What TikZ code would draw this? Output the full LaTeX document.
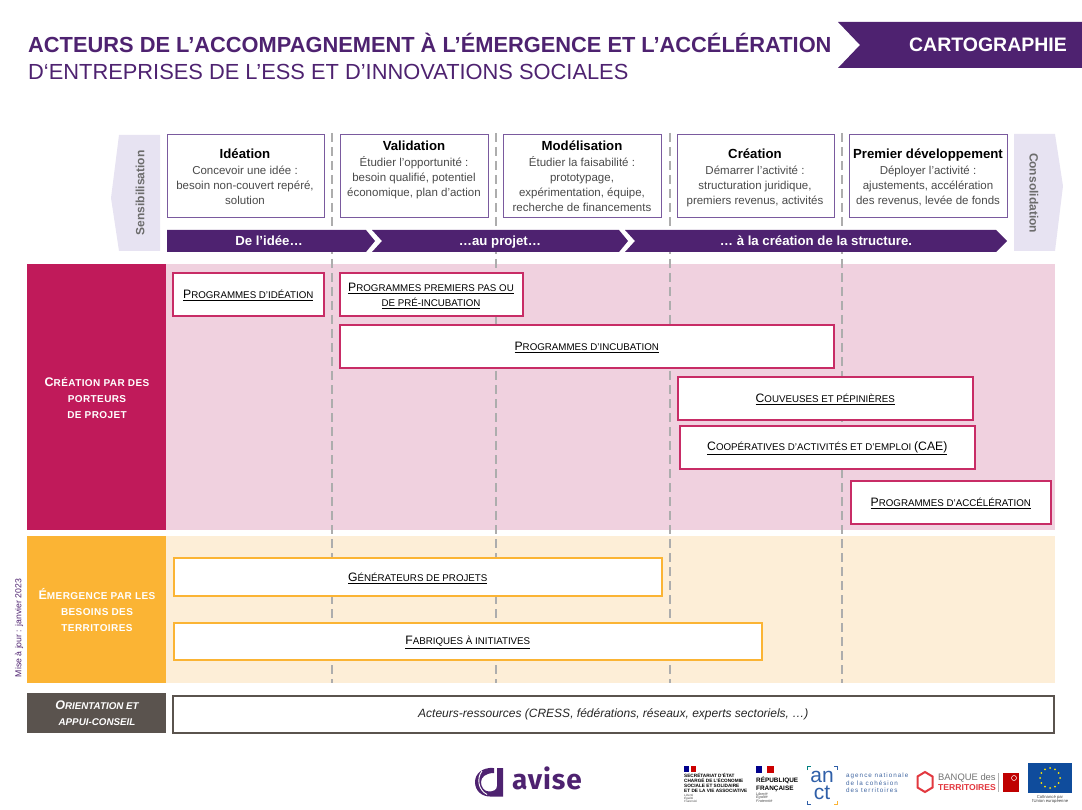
\documentclass[tikz,border=0pt]{standalone}
\usepackage{fontspec}
\setmainfont{Liberation Sans}
\newfontfamily\geo{Fira Sans}
\definecolor{purp}{HTML}{4E2270}
\definecolor{stepline}{HTML}{7A5A9E}
\definecolor{lilac}{HTML}{E7E3F2}
\definecolor{rose}{HTML}{C01A5A}
\definecolor{rosel}{HTML}{F0D1DF}
\definecolor{roseb}{HTML}{C82C66}
\definecolor{oran}{HTML}{FBB434}
\definecolor{oranl}{HTML}{FDEED7}
\definecolor{dgray}{HTML}{5A534E}
\definecolor{body}{HTML}{4A4A4A}
\definecolor{ancb}{HTML}{2F5FA8}
\definecolor{btred}{HTML}{E2383F}
\definecolor{eub}{HTML}{0F4C9C}
\newcommand\fsz[1]{\fontsize{#1}{#1}\selectfont}
% faked small capitals: big initial, small upper-case rest
\newcommand\psc[2]{{\fsz{12.2}#1}{\fsz{9.75}\MakeUppercase{#2}}}
\newcommand\hsc[2]{{\fsz{12.5}#1}{\fsz{10}\MakeUppercase{#2}}}
\newcommand\osc[2]{{\fsz{12.5}#1}{\fsz{9.8}\MakeUppercase{#2}}}
\newcommand\stt[1]{{\bfseries\fsz{13.2}\color{black}#1}}
\tikzset{
  x=1pt,y=-1pt,
  stepbox/.style={draw=stepline,line width=1pt,fill=white,outer sep=0pt,inner sep=0pt,anchor=north west,minimum height=83pt},
  steptext/.style={align=center,text=body,font=\fontsize{11.5}{15}\selectfont,inner sep=0pt,anchor=north},
  arrowlabel/.style={text=white,font=\bfseries\fsz{13.2},inner sep=0pt,anchor=base},
  sidelabel/.style={text=gray!85!black,font=\bfseries\fsz{12},rotate=#1,inner sep=0pt},
  prog/.style={draw=roseb,line width=1.6pt,fill=white,outer sep=0pt,inner sep=0pt,anchor=north west,minimum height=43pt},
  progo/.style={draw=oran,line width=1.6pt,fill=white,outer sep=0pt,inner sep=0pt,anchor=north west},
  plabel/.style={align=center,text=black,inner sep=0pt,yshift=-1.2pt},
  hlabel/.style={align=center,text=white,font=\bfseries\addfontfeature{LetterSpace=4},inner sep=0pt},
  dashv/.style={draw=black!32,line width=1.1pt,dash pattern=on 9pt off 5pt},
}
\begin{document}
\begin{tikzpicture}
\useasboundingbox (0,0) rectangle (1082,810);
% title
\node[anchor=base west,inner sep=0pt,text=purp,font=\bfseries\fsz{21.83}] (t1) at (28,53) {ACTEURS DE L’ACCOMPAGNEMENT À L’ÉMERGENCE ET L’ACCÉLÉRATION};
\node[anchor=base west,inner sep=0pt,text=purp,font=\fsz{21.85}] (t2) at (28,80) {D‘ENTREPRISES DE L’ESS ET D’INNOVATIONS SOCIALES};
\fill[purp] (838,22) -- (1082,22) -- (1082,68) -- (838,68) -- (860,45) -- cycle;
\node[text=white,font=\bfseries\fsz{19.5},inner sep=0pt] (carto) at (988,45) {CARTOGRAPHIE};
% bands
\fill[rosel] (166,264) rectangle (1055,530);
\fill[rose] (27,264) rectangle (166,530);
\fill[oranl] (166,536) rectangle (1055,683);
\fill[oran] (27,536) rectangle (166,683);
\fill[dgray] (27,693) rectangle (166,733);
% dashed separators
\foreach \xx in {332,496,670,842} \draw[dashv] (\xx,133) -- (\xx,683);
% side arrows
\fill[lilac] (119,135) -- (160,135) -- (160,251) -- (119,251) -- (111,198) -- cycle;
\fill[lilac] (1014,134) -- (1055,134) -- (1063,186) -- (1055,251) -- (1014,251) -- cycle;
\node[sidelabel=90] (sens) at (140,193) {Sensibilisation};
\node[sidelabel=-90] (cons) at (1034,193) {Consolidation};
% steps
\node[stepbox,minimum width=157pt] (s1) at (167,134.5) {};
\node[stepbox,minimum width=148pt] (s2) at (340,134.5) {};
\node[stepbox,minimum width=157.5pt] (s3) at (503.5,134.5) {};
\node[stepbox,minimum width=156.5pt] (s4) at (677.5,134.5) {};
\node[stepbox,minimum width=157.5pt] (s5) at (849.5,134.5) {};
\node[steptext] (s1t) at (245,149) {\stt{Idéation}\\[1pt]Concevoir une idée :\\besoin non-couvert repéré,\\solution};
\node[steptext] (s2t) at (414,141) {\stt{Validation}\\[1pt]Étudier l’opportunité :\\besoin qualifié, potentiel\\économique, plan d’action};
\node[steptext] (s3t) at (582,141) {\stt{Modélisation}\\[1pt]Étudier la faisabilité :\\prototypage,\\expérimentation, équipe,\\recherche de financements};
\node[steptext] (s4t) at (755,149) {\stt{Création}\\[1pt]Démarrer l’activité :\\structuration juridique,\\premiers revenus, activités};
\node[steptext] (s5t) at (928,149) {\stt{Premier développement}\\[1pt]Déployer l’activité :\\ajustements, accélération\\des revenus, levée de fonds};
% process arrow
\fill[purp] (167,230) -- (366,230) -- (375,241) -- (366,252) -- (167,252) -- cycle;
\fill[purp] (372,230) -- (619,230) -- (628,241) -- (619,252) -- (372,252) -- (382,241) -- cycle;
\fill[purp] (625,230) -- (996,230) -- (1007,241) -- (996,252) -- (625,252) -- (635,241) -- cycle;
\node[arrowlabel] (a1) at (269,245.5) {De l’idée…};
\node[arrowlabel] (a2) at (500,245.5) {…au projet…};
\node[arrowlabel] (a3) at (816,245.5) {… à la création de la structure.};
% pink programmes
\node[prog,minimum width=151pt] (p1) at (172.8,272.8) {};
\node[plabel] at (p1) {\underline{\psc{P}{rogrammes d’idéation}}};
\node[prog,minimum width=183pt] (p2) at (339.8,272.8) {};
\node[plabel] at (431,294.4) {\underline{\psc{P}{rogrammes premiers pas ou}}\\[3pt]\underline{{\fsz{9.75}\MakeUppercase{de pré-incubation}}}};
\node[prog,minimum width=494pt] (p3) at (339.8,324.8) {};
\node[plabel] at (p3) {\underline{\psc{P}{rogrammes d’incubation}}};
\node[prog,minimum width=295pt] (p4) at (677.8,376.8) {};
\node[plabel] at (p4) {\underline{\psc{C}{ouveuses et pépinières}}};
\node[prog,minimum width=295pt] (p5) at (679.8,425.8) {};
\node[plabel] at (p5) {\underline{\psc{C}{oopératives d’activités et d’emploi }{\fsz{12.2}(CAE)}}};
\node[prog,minimum width=200pt] (p6) at (850.8,480.8) {};
\node[plabel] at (p6) {\underline{\psc{P}{rogrammes d’accélération}}};
% orange programmes
\node[progo,minimum width=488pt,minimum height=38pt] (o1) at (173.8,557.8) {};
\node[plabel] at (o1) {\underline{\psc{G}{énérateurs de projets}}};
\node[progo,minimum width=588pt,minimum height=37pt] (o2) at (173.8,622.8) {};
\node[plabel] at (o2) {\underline{\psc{F}{abriques à initiatives}}};
% headers
\node[hlabel] (h1) at (97,398) {\hsc{C}{réation par des}\\[4pt]{\fsz{10}PORTEURS}\\[4pt]{\fsz{10}DE PROJET}};
\node[hlabel] (h2) at (97,610) {\hsc{É}{mergence par les}\\[4pt]{\fsz{10}BESOINS DES}\\[4pt]{\fsz{10}TERRITOIRES}};
\node[align=center,text=white,font=\bfseries\itshape,inner sep=0pt] (h3) at (97,713) {\osc{O}{rientation et}\\[3.5pt]{\fsz{9.8}APPUI-CONSEIL}};
\node[draw=dgray,line width=1.6pt,fill=white,outer sep=0pt,anchor=north west,minimum width=881pt,minimum height=37pt,inner sep=0pt,font=\itshape\fsz{12},text=black!85] (ress) at (172.8,695.8) {Acteurs-ressources (CRESS, fédérations, réseaux, experts sectoriels, …)};
\node[rotate=90,text=purp,font=\fsz{8.7},inner sep=0pt] (maj) at (19,628) {Mise à jour : janvier 2023};
% footer: avise
\fill[purp] (494,768) .. controls (482,767) and (475,774) .. (475,782) .. controls (475,791) and (482,796.5) .. (490,796.5) -- (503,796.5) -- (503,768) -- (497,768) -- (497,786) .. controls (497,790) and (493,791.5) .. (489,791.5) .. controls (484,791.5) and (481,787) .. (481,782) .. controls (481,777) and (486,773) .. (494,773) -- cycle;
\draw[white,line width=0.9pt] (482,771) .. controls (476.5,778) and (478,790) .. (487,794.5);
\node[anchor=base west,text=purp,font=\geo\bfseries\fsz{28}\addfontfeature{LetterSpace=3},inner sep=0pt] (avise) at (512,789.5) {avise};
% footer: SE-ESS
\fill[blue!55!black] (684,766) rectangle (689,771.5);
\fill[red!80!black] (691,766) rectangle (696,771.5);
\node[anchor=north west,inner sep=0pt,align=left,font=\bfseries\fsz{4.7},text=black] (se) at (684,773) {SECRÉTARIAT D’ÉTAT\\[0.2pt]CHARGÉ DE L’ÉCONOMIE\\[0.2pt]SOCIALE ET SOLIDAIRE\\[0.2pt]ET DE LA VIE ASSOCIATIVE};
\node[anchor=north west,inner sep=0pt,align=left,font=\itshape\fsz{3},text=black!70] (se2) at (684,794) {Liberté\\Égalité\\Fraternité};
% footer: RF
\fill[blue!55!black] (756,766) rectangle (762,773);
\fill[red!80!black] (767,766) rectangle (774,773);
\node[anchor=north west,inner sep=0pt,align=left,font=\bfseries\fsz{6.4},text=black] (rf) at (756,777) {RÉPUBLIQUE\\[1pt]FRANÇAISE};
\node[anchor=north west,inner sep=0pt,align=left,font=\itshape\fsz{3.8},text=black!70] (rf2) at (756,792) {Liberté\\Égalité\\Fraternité};
% footer: ANCT
\node[anchor=center,align=center,inner sep=0pt,text=ancb,font=\fontsize{21}{17}\selectfont] (an) at (822,785) {an\\ct};
\draw[teal,line width=1.4pt] (807.5,770) -- (807.5,766.5) -- (811,766.5);
\draw[ancb,line width=1.4pt] (834,766.5) -- (837.5,766.5) -- (837.5,770);
\draw[ancb,line width=1.4pt] (807.5,801) -- (807.5,804.5) -- (811,804.5);
\draw[oran,line width=1.4pt] (834,804.5) -- (837.5,804.5) -- (837.5,801);
\node[anchor=north west,inner sep=0pt,align=left,text=ancb!80!gray,font=\fsz{6.3}\addfontfeature{LetterSpace=16}] (anct) at (846,773) {agence nationale\\[1.2pt]de la cohésion\\[1.2pt]des territoires};
% footer: Banque des territoires
\draw[btred,line width=2pt] (925,772) -- (932.5,776.5) -- (932.5,787.5) -- (925,792) -- (917.5,787.5) -- (917.5,776.5) -- cycle;
\node[anchor=north west,inner sep=0pt,align=left,text=black!55,font=\fsz{9.4}] (bt1) at (938,773) {BANQUE des};
\node[anchor=north west,inner sep=0pt,align=left,text=btred,font=\bfseries\fsz{8.6}] (bt2) at (938,784) {TERRITOIRES};
\draw[black!30,line width=0.5pt] (998,773) -- (998,792);
\fill[red!75!black] (1003,773) rectangle (1019,792);
\draw[white,line width=0.5pt] (1014,778) circle (2.5pt);
% footer: EU flag
\fill[eub] (1028,763) rectangle (1072,793);
\foreach \aa in {0,30,...,330} \fill[yellow!90!orange] ({1050+10*cos(\aa)},{778+10*sin(\aa)}) circle (1pt);
\node[inner sep=0pt,align=center,font=\fsz{4.2},text=black!75] (eu) at (1050,799) {Cofinancé par\\l’Union européenne};
\end{tikzpicture}
\end{document}
